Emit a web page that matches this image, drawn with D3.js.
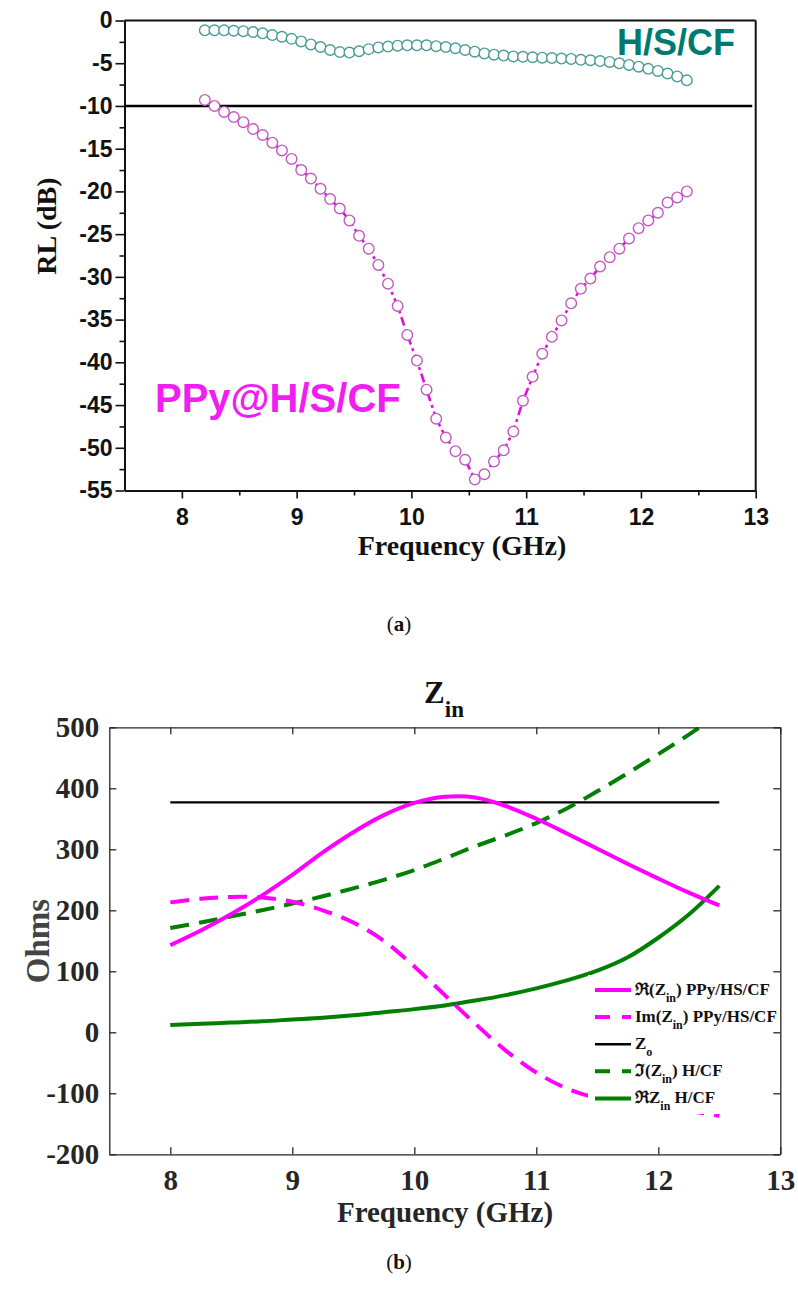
<!DOCTYPE html>
<html><head><meta charset="utf-8">
<script src="https://cdn.jsdelivr.net/npm/d3@7/dist/d3.min.js"></script>
<style>body{margin:0;background:#fff}</style>
</head><body>
<svg id="c" width="798" height="1298" xmlns="http://www.w3.org/2000/svg"></svg>
<script>
// ---------- (a) data ----------
const freqA = [8.200,8.284,8.368,8.452,8.536,8.620,8.704,8.788,8.872,8.956,9.040,9.124,9.208,9.292,9.376,9.460,9.544,9.628,9.712,9.796,9.880,9.964,10.048,10.132,10.216,10.300,10.384,10.468,10.552,10.636,10.720,10.804,10.888,10.972,11.056,11.140,11.224,11.308,11.392,11.476,11.560,11.644,11.728,11.812,11.896,11.980,12.064,12.148,12.232,12.316,12.400];
const rlHSCF = [-1.15,-1.15,-1.15,-1.2,-1.25,-1.35,-1.5,-1.7,-1.9,-2.15,-2.45,-2.8,-3.1,-3.45,-3.7,-3.75,-3.6,-3.35,-3.15,-3.05,-2.95,-2.9,-2.9,-2.9,-3.0,-3.1,-3.25,-3.45,-3.65,-3.85,-4.0,-4.1,-4.2,-4.25,-4.3,-4.35,-4.4,-4.45,-4.5,-4.6,-4.65,-4.75,-4.85,-5.0,-5.2,-5.4,-5.65,-5.9,-6.2,-6.55,-7.0];
const rlPPy = [-9.3,-10.0,-10.7,-11.3,-11.9,-12.7,-13.4,-14.3,-15.2,-16.2,-17.5,-18.5,-19.7,-20.9,-22.0,-23.4,-25.2,-26.7,-28.6,-30.8,-33.4,-36.8,-39.8,-43.2,-46.6,-48.8,-50.4,-51.4,-53.7,-53.1,-51.6,-50.3,-48.1,-44.5,-41.7,-39.0,-37.0,-35.1,-33.1,-31.4,-30.2,-28.8,-27.7,-26.7,-25.5,-24.3,-23.4,-22.5,-21.3,-20.7,-20.0];
const yTicksA = [0,-5,-10,-15,-20,-25,-30,-35,-40,-45,-50,-55];
const yMinorA = [-2.5,-7.5,-12.5,-17.5,-22.5,-27.5,-32.5,-37.5,-42.5,-47.5,-52.5];
const xTicksA = [8,9,10,11,12,13];
const xMinorA = [8.5,9.5,10.5,11.5,12.5];
const refLineA = -10;
const labelsA = ["H/S/CF","PPy@H/S/CF"];

// ---------- (b) data ----------
const freqB = [8,8.25,8.5,8.75,9,9.25,9.5,9.75,10,10.25,10.5,10.75,11,11.25,11.5,11.75,12,12.25,12.5];
const reZinPPy = [143,167,194,224,258,295,328,356,376,386,385,371,350,326,301,276,252,229,208];
const imZinPPy = [213,219,222,221,214,200,180,150,108,61,14,-30,-66,-92,-108,-117,-123,-129,-137];
const imZinHCF = [171,180,190,200,211,223,236,250,266,285,305,323,343,367,395,425,456,488,522];
const reZinHCF = [12,14,16,18,21,24,28,33,38,44,52,61,72,85,101,123,155,193,240];
const z0Freq = [8,12.5];
const z0Val = [377,377];
const xTicksB = [8,9,10,11,12,13];
const yTicksB = [-200,-100,0,100,200,300,400,500];

const svg = d3.select("#c");
const SANS = "'Liberation Sans', Arial, sans-serif";
const SERIF = "'Liberation Serif', 'Times New Roman', serif";
const fmt = d => String(d);

// ================= (a) =================
const xA = d3.scaleLinear([7.5,13],[124.5,755.7]);
const yA = d3.scaleLinear([-55,0],[490.5,20.5]);
const gA = svg.append("g");

gA.append("line").attr("x1",xA(7.5)).attr("x2",xA(13)).attr("y1",yA(0)).attr("y2",yA(0)).attr("stroke","#111").attr("stroke-width",2);
gA.append("line").attr("x1",xA(13)).attr("x2",xA(13)).attr("y1",yA(0)).attr("y2",yA(-55)).attr("stroke","#111").attr("stroke-width",2);
gA.append("line").attr("x1",xA(7.5)).attr("x2",xA(12.97)).attr("y1",yA(refLineA)).attr("y2",yA(refLineA)).attr("stroke","#000").attr("stroke-width",2.5);

function styleAxisA(g){
  g.attr("font-family",SANS).attr("font-size",23);
  g.selectAll(".domain").attr("stroke","#111").attr("stroke-width",2);
  g.selectAll(".tick line").attr("stroke","#111").attr("stroke-width",1.6);
  g.selectAll("text").attr("font-family",SANS).attr("font-weight","bold").attr("font-size",23).attr("fill","#111");
}
const axLA = gA.append("g").attr("transform",`translate(${xA(7.5)},0)`)
  .call(d3.axisLeft(yA).tickValues(yTicksA).tickSize(9).tickSizeOuter(0).tickPadding(3).tickFormat(fmt));
styleAxisA(axLA);
const axLAm = gA.append("g").attr("transform",`translate(${xA(7.5)},0)`)
  .call(d3.axisLeft(yA).tickValues(yMinorA).tickSize(5).tickSizeOuter(0).tickFormat(""));
styleAxisA(axLAm);
const axBA = gA.append("g").attr("transform",`translate(0,${yA(-55)})`)
  .call(d3.axisBottom(xA).tickValues(xTicksA).tickSize(8).tickSizeOuter(0).tickPadding(10).tickFormat(fmt));
styleAxisA(axBA);
const axBAm = gA.append("g").attr("transform",`translate(0,${yA(-55)})`)
  .call(d3.axisBottom(xA).tickValues(xMinorA).tickSize(5).tickSizeOuter(0).tickFormat(""));
styleAxisA(axBAm);

gA.append("text").attr("x",462).attr("y",555).attr("text-anchor","middle")
  .attr("font-family",SERIF).attr("font-weight","bold").attr("font-size",28).attr("fill","#111").text("Frequency (GHz)");
gA.append("text").attr("transform","translate(56,226) rotate(-90)").attr("text-anchor","middle")
  .attr("font-family",SERIF).attr("font-weight","bold").attr("font-size",28).attr("fill","#111").text("RL (dB)");

const lineA = d3.line().x((d,i)=>xA(freqA[i])).y(d=>yA(d));
gA.append("path").datum(rlHSCF).attr("d",lineA).attr("fill","none").attr("stroke","#3f9a90").attr("stroke-width",2).attr("stroke-dasharray","9,4,3,4");
gA.append("path").datum(rlPPy).attr("d",lineA).attr("fill","none").attr("stroke","#e010e0").attr("stroke-width",2.6).attr("stroke-dasharray","9,4,3,4");
gA.append("g").selectAll("circle").data(rlHSCF).join("circle")
  .attr("cx",(d,i)=>xA(freqA[i])).attr("cy",d=>yA(d)).attr("r",5.3)
  .attr("fill","#fff").attr("stroke","#4a9c93").attr("stroke-width",1.4);
gA.append("g").selectAll("circle").data(rlPPy).join("circle")
  .attr("cx",(d,i)=>xA(freqA[i])).attr("cy",d=>yA(d)).attr("r",5.3)
  .attr("fill","#fff").attr("stroke","#c25ac2").attr("stroke-width",1.4);

gA.append("text").attr("x",617).attr("y",55).attr("font-family",SANS).attr("font-weight","bold").attr("font-size",36).attr("fill","#007a70").text(labelsA[0]);
gA.append("text").attr("x",155).attr("y",412).attr("font-family",SANS).attr("font-weight","bold").attr("font-size",40).attr("fill","#f01ef0").text(labelsA[1]);

const capA = svg.append("text").attr("x",399).attr("y",631).attr("text-anchor","middle").attr("font-family",SERIF).attr("font-size",21).attr("fill","#111");
capA.append("tspan").text("(");capA.append("tspan").attr("font-weight","bold").text("a");capA.append("tspan").text(")");

// ================= (b) =================
const xB = d3.scaleLinear([7.5,13],[109.3,780.3]);
const yB = d3.scaleLinear([-200,500],[1154.3,727.3]);
const gB = svg.append("g");

svg.append("clipPath").attr("id","clipB").append("rect")
  .attr("x",xB(7.5)).attr("y",yB(500)).attr("width",xB(13)-xB(7.5)).attr("height",yB(-200)-yB(500));

const lineB = d3.line().curve(d3.curveCatmullRom).x((d,i)=>xB(freqB[i])).y(d=>yB(d));
const curves = gB.append("g").attr("clip-path","url(#clipB)");
const z0Line = d3.line().x((d,i)=>xB(z0Freq[i])).y(d=>yB(d));
curves.append("path").datum(z0Val).attr("d",z0Line).attr("fill","none").attr("stroke","#000").attr("stroke-width",2.4);
curves.append("path").datum(reZinHCF).attr("d",lineB).attr("fill","none").attr("stroke","#007f00").attr("stroke-width",4);
curves.append("path").datum(imZinHCF).attr("d",lineB).attr("fill","none").attr("stroke","#007f00").attr("stroke-width",4).attr("stroke-dasharray","19,10");
curves.append("path").datum(imZinPPy).attr("d",lineB).attr("fill","none").attr("stroke","#ff00ff").attr("stroke-width",4).attr("stroke-dasharray","19,10");
curves.append("path").datum(reZinPPy).attr("d",lineB).attr("fill","none").attr("stroke","#ff00ff").attr("stroke-width",4);

const legend = [
  {main:"\u211C(Z", sub:"in", rest:") PPy/HS/CF", color:"#ff00ff", dash:null, w:4},
  {main:"Im(Z", sub:"in", rest:") PPy/HS/CF", color:"#ff00ff", dash:"15,12", w:4},
  {main:"Z", sub:"o", rest:"", color:"#000", dash:null, w:2.4},
  {main:"\u2111(Z", sub:"in", rest:") H/CF", color:"#007f00", dash:"15,12", w:4},
  {main:"\u211CZ", sub:"in", rest:" H/CF", color:"#007f00", dash:null, w:4}
];
const lg = gB.append("g");
lg.append("rect").attr("x",588).attr("y",975).attr("width",188).attr("height",139).attr("fill","#fff");
legend.forEach((e,i)=>{
  const yy = 990 + i*27.1;
  lg.append("line").attr("x1",595).attr("x2",631).attr("y1",yy).attr("y2",yy)
    .attr("stroke",e.color).attr("stroke-width",e.w).attr("stroke-dasharray",e.dash);
  const t = lg.append("text").attr("x",635).attr("y",yy+5).attr("font-family",SERIF).attr("font-weight","bold").attr("font-size",17).attr("fill","#111");
  t.append("tspan").text(e.main);
  t.append("tspan").attr("dy",7).attr("font-size",12).text(e.sub);
  if(e.rest) t.append("tspan").attr("dy",-7).text(e.rest);
});

function styleAxisB(g){
  g.attr("font-family",SERIF).attr("font-size",29);
  g.selectAll(".domain").attr("stroke","#262626").attr("stroke-width",1.3);
  g.selectAll(".tick line").attr("stroke","#262626").attr("stroke-width",1.3);
  g.selectAll("text").attr("font-family",SERIF).attr("font-weight","bold").attr("font-size",29).attr("fill","#262626");
}
const axBB = gB.append("g").attr("transform",`translate(0,${yB(-200)})`)
  .call(d3.axisBottom(xB).tickValues(xTicksB).tickSizeInner(-7).tickSizeOuter(0).tickPadding(15).tickFormat(fmt));
styleAxisB(axBB);
const axTB = gB.append("g").attr("transform",`translate(0,${yB(500)})`)
  .call(d3.axisTop(xB).tickValues(xTicksB).tickSizeInner(-7).tickSizeOuter(0).tickFormat(""));
styleAxisB(axTB);
const axLB = gB.append("g").attr("transform",`translate(${xB(7.5)},0)`)
  .call(d3.axisLeft(yB).tickValues(yTicksB).tickSizeInner(-7).tickSizeOuter(0).tickPadding(10).tickFormat(fmt));
styleAxisB(axLB);
axLB.selectAll("text").attr("dy","0.33em");
const axRB = gB.append("g").attr("transform",`translate(${xB(13)},0)`)
  .call(d3.axisRight(yB).tickValues(yTicksB).tickSizeInner(-7).tickSizeOuter(0).tickFormat(""));
styleAxisB(axRB);

const ttl = gB.append("text").attr("x",444).attr("y",703).attr("text-anchor","middle").attr("font-family",SERIF).attr("font-weight","bold").attr("font-size",31).attr("fill","#111");
ttl.append("tspan").text("Z");
ttl.append("tspan").attr("dy",14).attr("font-size",23).text("in");
gB.append("text").attr("x",445).attr("y",1222).attr("text-anchor","middle").attr("font-family",SERIF).attr("font-weight","bold").attr("font-size",29).attr("fill","#262626").text("Frequency (GHz)");
gB.append("text").attr("transform","translate(49,941) rotate(-90)").attr("text-anchor","middle").attr("font-family",SERIF).attr("font-weight","bold").attr("font-size",33).attr("fill","#444").text("Ohms");

const capB = svg.append("text").attr("x",399).attr("y",1269).attr("text-anchor","middle").attr("font-family",SERIF).attr("font-size",21).attr("fill","#111");
capB.append("tspan").text("(");capB.append("tspan").attr("font-weight","bold").text("b");capB.append("tspan").text(")");
</script>
</body></html>
